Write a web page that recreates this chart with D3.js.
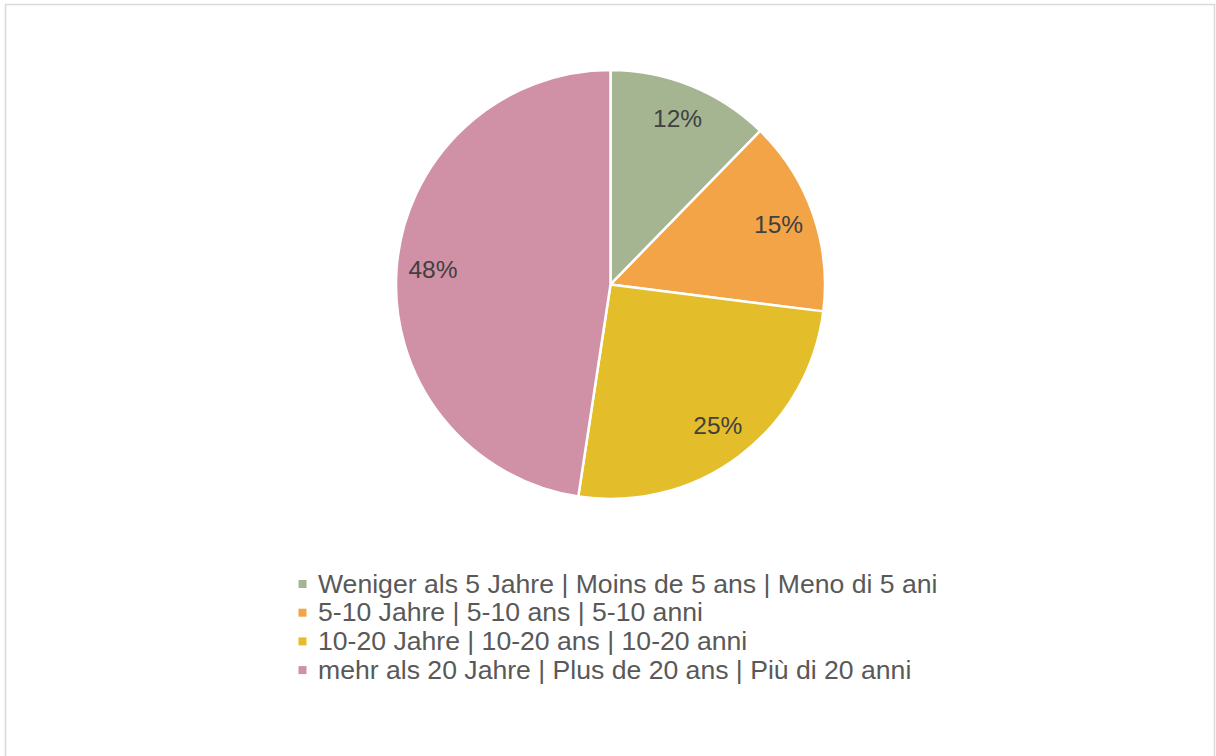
<!DOCTYPE html>
<html><head><meta charset="utf-8">
<script src="https://cdn.jsdelivr.net/npm/d3@7"></script>
<style>html,body{margin:0;padding:0;background:#fff;}svg{display:block;}</style>
</head><body>
<svg id="chart" width="1216" height="756"></svg>
<script>
const categories = [
  "Weniger als 5 Jahre | Moins de 5 ans | Meno di 5 ani",
  "5-10 Jahre | 5-10 ans | 5-10 anni",
  "10-20 Jahre | 10-20 ans | 10-20 anni",
  "mehr als 20 Jahre | Plus de 20 ans | Più di 20 anni"
];
const values = [12.3, 14.7, 25.4, 47.6];
const colors = ["#A5B592", "#F2A447", "#E4BD2A", "#D091A6"];

const svg = d3.select("#chart");
svg.append("rect").attr("x", 5.5).attr("y", 4.5).attr("width", 1209).attr("height", 800)
  .attr("fill", "#fff").attr("stroke", "#d9d9d9").attr("stroke-width", 1.5);

const cx = 610.5, cy = 284.5, r = 214.5;
const total = d3.sum(values);
const pie = d3.pie().sort(null).value(d => d)(values);
const arc = d3.arc().innerRadius(0).outerRadius(r);
const labelArc = d3.arc().innerRadius(r * 0.83).outerRadius(r * 0.83);
const color = d3.scaleOrdinal().domain(d3.range(categories.length)).range(colors);

const g = svg.append("g").attr("transform", `translate(${cx},${cy})`);
g.selectAll("path").data(pie).join("path")
  .attr("d", arc).attr("fill", (d, i) => color(i))
  .attr("stroke", "#fff").attr("stroke-width", 2.5).attr("stroke-linejoin", "round");

g.selectAll("text").data(pie).join("text")
  .attr("transform", d => `translate(${labelArc.centroid(d)})`)
  .attr("text-anchor", "middle").attr("dy", "0.3em")
  .attr("font-family", "Liberation Sans, Arial, sans-serif").attr("font-size", 24.5)
  .attr("fill", "#404040")
  .text(d => Math.round(d.value / total * 100) + "%");

const leg = svg.append("g").attr("transform", "translate(298.5,0)");
const rows = leg.selectAll("g").data(categories).join("g")
  .attr("transform", (d, i) => `translate(0,${592.5 + i * 28.7})`);
rows.append("rect").attr("x", 0).attr("y", -12.5).attr("width", 8).attr("height", 8)
  .attr("fill", (d, i) => color(i));
rows.append("text").attr("x", 19.5).attr("y", 0)
  .attr("font-family", "Liberation Sans, Arial, sans-serif").attr("font-size", 26.6)
  .attr("fill", "#595959").text(d => d);
</script>
</body></html>
